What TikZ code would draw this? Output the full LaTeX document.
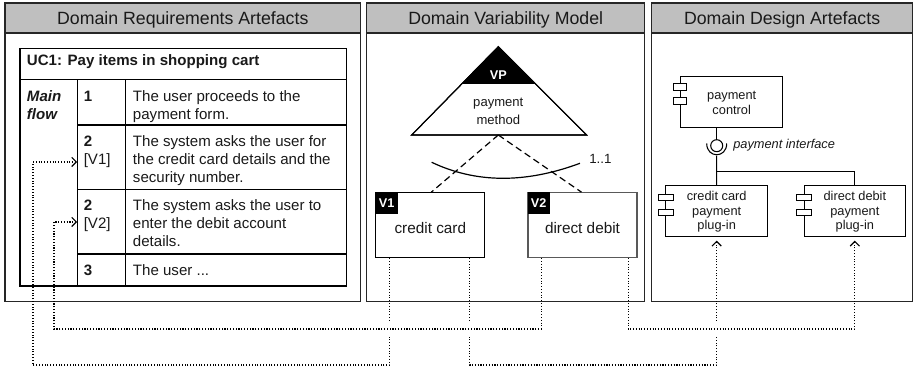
\documentclass[tikz,border=0pt]{standalone}
\usepackage{fontspec}
\setmainfont{Liberation Sans}
\usetikzlibrary{arrows.meta}
\begin{document}
\begin{tikzpicture}[x=0.75pt,y=-0.75pt,
  panel/.style={draw=black!85, line width=1.1pt},
  hdr/.style={draw=black!85, line width=1.1pt, fill=black!25},
  htext/.style={font=\fontsize{13.3}{16}\selectfont, inner sep=0, anchor=base, text=black!90},
  tline/.style={draw=black, line width=0.8pt},
  tx/.style={font=\fontsize{11.3}{13.6}\selectfont, inner sep=0, anchor=base west, text=black!90},
  txb/.style={tx, font=\fontsize{11.3}{13.6}\selectfont\bfseries},
  txbi/.style={tx, font=\fontsize{11.3}{13.6}\selectfont\bfseries\itshape},
  vbox/.style={draw=black, line width=0.8pt, fill=white, inner sep=0, minimum width=109*0.75pt, minimum height=65*0.75pt},
  vlabel/.style={fill=black, text=white, inner sep=0, minimum width=22*0.75pt, minimum height=21.6*0.75pt, font=\fontsize{9.5}{11}\selectfont\bfseries},
  vtext/.style={font=\fontsize{11.5}{14}\selectfont, inner sep=0, anchor=base, text=black!90},
  comp/.style={draw=black, line width=0.8pt, fill=white, inner sep=0, minimum width=101.5*0.75pt, minimum height=50.5*0.75pt},
  icon/.style={draw=black, line width=0.7pt, fill=white},
  ctext/.style={font=\fontsize{9.6}{11}\selectfont, inner sep=0, anchor=base, text=black!90},
  conn/.style={line width=0.8pt, dash pattern=on 0.8pt off 1.3pt, -{Straight Barb[length=3.5pt,width=7pt,line width=0.9pt]}},
  vdash/.style={line width=0.9pt, dash pattern=on 5pt off 3pt}
]
\useasboundingbox (0,0) rectangle (914,373);

% ---------- panels ----------
\draw[panel] (5,3) rectangle (360.5,301.5);
\draw[hdr] (5,3) rectangle (360.5,33);
\node[htext] (h1) at (182.75,25) {Domain Requirements Artefacts};
\draw[panel] (366.7,3) rectangle (644.7,301.5);
\draw[hdr] (366.7,3) rectangle (644.7,33);
\node[htext] (h2) at (505.7,25) {Domain Variability Model};
\draw[panel] (651.7,3) rectangle (912.5,301.5);
\draw[hdr] (651.7,3) rectangle (912.5,33);
\node[htext] (h3) at (782.1,25) {Domain Design Artefacts};

% ---------- use case table ----------
\draw[tline] (20,48.3) rectangle (346.7,286);
\draw[tline] (20,79.3) -- (346.7,79.3);
\draw[tline] (77.7,79.3) -- (77.7,286);
\draw[tline] (125.7,79.3) -- (125.7,286);
\draw[tline] (77.7,125) -- (346.7,125);
\draw[tline] (77.7,189.3) -- (346.7,189.3);
\draw[tline] (77.7,254) -- (346.7,254);
\node[txb] (uc) at (26.7,65.7) {UC1: Pay items in shopping cart};
\node[txbi] (mf1) at (26.7,101.7) {Main};
\node[txbi] (mf2) at (26.7,119.5) {flow};
\node[txb] (n1) at (83.5,101.7) {1};
\node[tx] (t11) at (132.7,101.7) {The user proceeds to the};
\node[tx] (t12) at (132.7,119.5) {payment form.};
\node[txb] (n2) at (83.5,147) {2};
\node[tx] (n2b) at (83.5,165) {[V1]};
\node[tx] (t21) at (132.7,147) {The system asks the user for};
\node[tx] (t22) at (132.7,165) {the credit card details and the};
\node[tx] (t23) at (132.7,183) {security number.};
\node[txb] (n3) at (83.5,210.7) {2};
\node[tx] (n3b) at (83.5,228.7) {[V2]};
\node[tx] (t31) at (132.7,210.7) {The system asks the user to};
\node[tx] (t32) at (132.7,228.7) {enter the debit account};
\node[tx] (t33) at (132.7,246.7) {details.};
\node[txb] (n4) at (83.5,275.7) {3};
\node[tx] (t41) at (132.7,275.7) {The user ...};
\coordinate (r2) at (77.2,162);
\coordinate (r3) at (77.2,222);

% ---------- variability model ----------
\coordinate (apex) at (498.3,46.7);
\coordinate (tb) at (498.3,135);
\draw[line width=0.8pt, fill=white] (apex) -- (586.7,135) -- (411.7,135) -- cycle;
\fill[black] (apex) -- (535.3,84) -- (461.3,84) -- cycle;
\draw[line width=0.8pt] (apex) -- (586.7,135) -- (411.7,135) -- cycle;
\node[font=\fontsize{9.5}{11}\selectfont\bfseries, text=white, inner sep=0, anchor=base] (vp) at (498.3,79.5) {VP};
\node[vtext, font=\fontsize{9.8}{12}\selectfont] (pm1) at (498.3,106.5) {payment};
\node[vtext, font=\fontsize{9.8}{12}\selectfont] (pm2) at (498.3,124.5) {method};

\node[vbox] (v1) at (430.35,225.2) {};
\node[vbox, draw=black!65] (v2) at (582.5,225.2) {};
\node[vlabel, anchor=north west] (v1l) at (v1.north west) {V1};
\node[vlabel, anchor=north west] (v2l) at (v2.north west) {V2};
\node[vtext] (v1t) at (430.35,234) {credit card};
\node[vtext] (v2t) at (582.5,234) {direct debit};

\draw[vdash] (tb) -- ([xshift=56*0.75pt]v1.north west);
\draw[vdash] (tb) -- ([xshift=54*0.75pt]v2.north west);
\draw[line width=0.9pt] (431.7,162.3) .. controls (475.9,183.3) and (525.3,183.6) .. (580,163.3);
\node[font=\fontsize{10}{12}\selectfont, inner sep=0, anchor=base west, text=black!90] (card) at (589,163.3) {1..1};

% ---------- design artefacts ----------
\node[comp] (pc) at (731.35,102) {};
\draw[icon] (673.3,83.3) rectangle (686.7,90);
\draw[icon] (673.3,97.7) rectangle (686.7,104.3);
\node[ctext] (pct1) at (731.7,100) {payment};
\node[ctext] (pct2) at (731.7,114.5) {control};

\node[comp] (cc) at (716.65,210.85) {};
\draw[icon] (658.3,194.3) rectangle (673.3,200);
\draw[icon] (658.3,209.3) rectangle (673.3,215);
\node[ctext] (cct1) at (716.7,200.7) {credit card};
\node[ctext] (cct2) at (716.7,215.4) {payment};
\node[ctext] (cct3) at (716.7,230) {plug-in};

\node[comp] (dd) at (854.85,210.85) {};
\draw[icon] (796.7,194.3) rectangle (811.7,200);
\draw[icon] (796.7,209.3) rectangle (811.7,215);
\node[ctext] (ddt1) at (854.85,200.7) {direct debit};
\node[ctext] (ddt2) at (854.85,215.4) {payment};
\node[ctext] (ddt3) at (854.85,230) {plug-in};

\coordinate (ball) at (716.7,145.7);
\coordinate (sock) at (716.7,155.7);
\coordinate (jn) at (716.7,171.7);
\draw[line width=0.8pt] (pc.south -| ball) -- (716.7,139.7);
\draw[line width=0.8pt] (ball) circle[radius=6];
\draw[line width=0.8pt] (706.7,143.5) .. controls (706.7,158.5) and (726.7,158.5) .. (726.7,143.5);
\draw[line width=0.8pt] (sock) -- (cc.north);
\draw[line width=0.8pt] (jn) -| (dd.north);
\node[font=\fontsize{9.6}{11}\selectfont\itshape, inner sep=0, anchor=base west, text=black!90] (pif) at (733,148.5) {payment interface};

% ---------- traceability connectors ----------
\draw[conn] ([xshift=14.3*0.75pt]v1.south west) |- (33,365) |- (r2);
\draw[conn, shorten >=3pt] ([xshift=94.3*0.75pt]v1.south west) |- (cc.south |- 0,365) -- (cc.south);
\fill[white] (386.5,321.5) rectangle (393.5,337);
\fill[white] (466.5,321.5) rectangle (473.5,337);
\fill[white] (713.2,321.5) rectangle (720.2,337);
\draw[conn] ([xshift=13.7*0.75pt]v2.south west) |- (54,329) |- (r3);
\draw[conn, shorten >=3pt] ([xshift=100.7*0.75pt]v2.south west) |- (dd.south |- 0,329) -- (dd.south);
\end{tikzpicture}
\end{document}
